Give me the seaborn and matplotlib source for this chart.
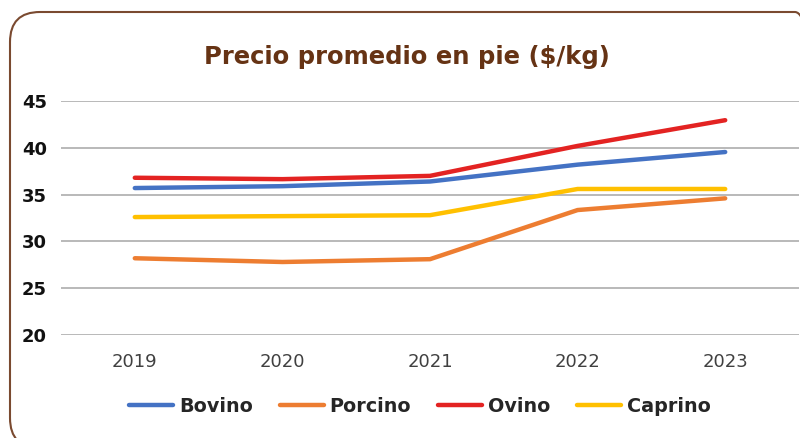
import matplotlib
matplotlib.use("Agg")
import matplotlib.pyplot as plt
from matplotlib.patches import FancyBboxPatch
from matplotlib.lines import Line2D
import seaborn as sns
import pandas as pd

# Average live-weight price per species ($/kg)
years = ["2019", "2020", "2021", "2022", "2023"]
bovino = [35.7, 35.9, 36.4, 38.2, 39.55]
porcino = [28.2, 27.8, 28.1, 33.35, 34.6]
ovino = [36.8, 36.65, 37.0, 40.2, 42.95]
caprino = [32.6, 32.7, 32.8, 35.6, 35.6]

species = ["Bovino", "Porcino", "Ovino", "Caprino"]
colors = ["#4472C4", "#ED7D31", "#E32322", "#FFC000"]
y_ticks = [20, 25, 30, 35, 40, 45]

df = pd.DataFrame({
    "Año": years * 4,
    "Precio": bovino + porcino + ovino + caprino,
    "Especie": [s for s in species for _ in years],
})
df["pos"] = [i for _ in species for i in range(len(years))]

sns.set_theme(style="white")
plt.rcParams["font.family"] = ["DejaVu Sans"]

fig = plt.figure(figsize=(8, 4.38), dpi=100)
ax = fig.add_axes([61 / 800, 1 - 335 / 438, (799 - 61) / 800, (335 - 101) / 438])

# rounded card frame (in inches so the corners stay circular)
frame = FancyBboxPatch((0.10, -0.10), 8.15, 4.36,
                       boxstyle="round,pad=0,rounding_size=0.30",
                       transform=fig.dpi_scale_trans, fill=False,
                       edgecolor="#7A4A30", linewidth=1.5, clip_on=False)
fig.patches.append(frame)

for y in y_ticks:
    ax.axhline(y, color="#A6A6A6", linewidth=1.1, zorder=0)

sns.lineplot(data=df, x="pos", y="Precio", hue="Especie", hue_order=species,
             palette=colors, linewidth=3.2, ax=ax, legend=False, sort=False,
             solid_capstyle="round")

ax.set_xlim(-0.5, 4.5)
ax.set_ylim(20, 45)
ax.set_xticks(range(len(years)))
ax.set_xticklabels(years)
ax.set_yticks(y_ticks)
ax.set_yticklabels([str(v) for v in y_ticks])
ax.set_xlabel("")
ax.set_ylabel("")
for s in ax.spines.values():
    s.set_visible(False)
ax.tick_params(axis="both", length=0)
ax.tick_params(axis="x", pad=13, labelsize=13, labelcolor="#404040")
ax.tick_params(axis="y", pad=10, labelsize=13, labelcolor="#111111")
for lbl in ax.get_yticklabels():
    lbl.set_fontweight("bold")

fig.text(407 / 800, 1 - 57 / 438, "Precio promedio en pie ($/kg)",
         ha="center", va="center", fontsize=17.5, fontweight="bold", color="#663314")

handles = [Line2D([0], [0], color=c, linewidth=3.2, solid_capstyle="round") for c in colors]
leg = fig.legend(handles, species, loc="center", bbox_to_anchor=(420 / 800, 1 - 406 / 438),
                 ncol=4, frameon=False, handlelength=2.3, handletextpad=0.3,
                 columnspacing=1.4, prop={"weight": "bold", "size": 13.8})

fig.savefig("out.png", dpi=100)
